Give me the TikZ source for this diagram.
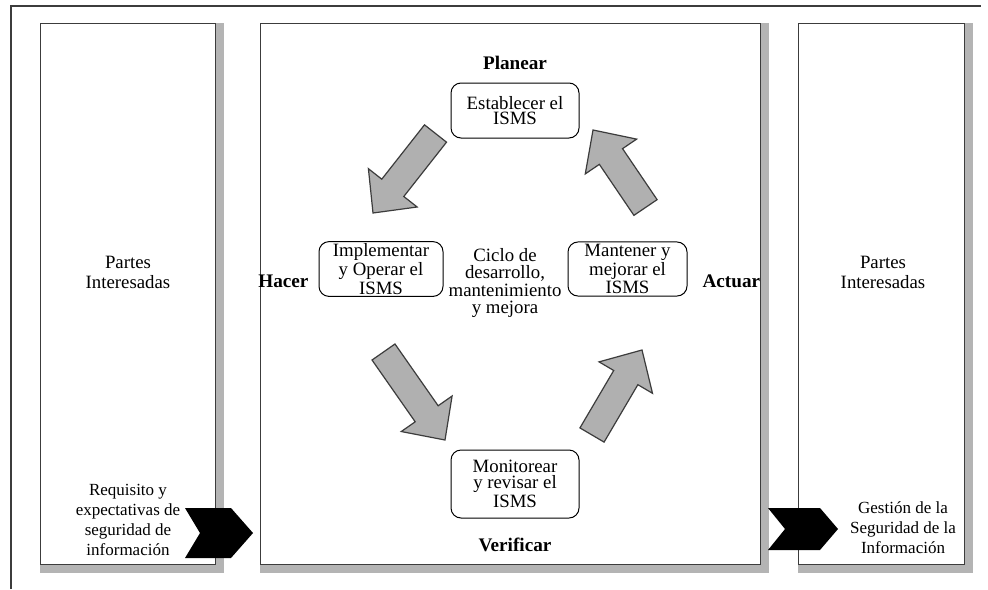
\documentclass[tikz,border=0pt]{standalone}
\usepackage{fontspec}
\setmainfont{Liberation Serif}
\usetikzlibrary{positioning,calc}
\definecolor{edge}{HTML}{3C3C3C}
\definecolor{shadowgray}{HTML}{B4B4B4}
\definecolor{arrowgray}{HTML}{B0B0B0}

% gray block arrow from tail #1 to tip #2
\newcommand{\blockarr}[2]{%
  \path ($(#2)!16pt!(#1)$) coordinate (hb);
  \draw[blk] ($(#1)!7pt!90:(#2)$) -- ($(hb)!7pt!90:(#2)$) -- ($(hb)!15.5pt!90:(#2)$) -- (#2)
    -- ($(hb)!15.5pt!-90:(#2)$) -- ($(hb)!7pt!-90:(#2)$) -- ($(#1)!7pt!-90:(#2)$) -- cycle;}

\begin{document}
\begin{tikzpicture}[x=0.5pt,y=-0.5pt,
  panel/.style={draw=edge,line width=0.6pt,fill=white,inner sep=0pt},
  stage/.style={draw=black,line width=0.5pt,rounded corners=5pt,fill=white,align=center,inner sep=1pt,
    font=\fontsize{9.4pt}{7.9pt}\selectfont},
  phase/.style={font=\fontsize{9.6pt}{10pt}\selectfont\bfseries},
  side/.style={align=center,font=\fontsize{8.5pt}{10pt}\selectfont},
  blk/.style={draw=edge,line width=0.6pt,fill=arrowgray,line join=miter}
]
  \useasboundingbox (0,0) rectangle (988,589);
  \draw[edge,line width=0.7pt] (11,589) -- (11,6) -- (981,6);

  % panels with shadow
  \node[panel,minimum width=87pt,minimum height=270pt] (lp) at (128,294) {};
  \node[panel,minimum width=249.5pt,minimum height=270pt] (cp) at (510.5,294) {};
  \node[panel,minimum width=82.5pt,minimum height=270pt] (rp) at (881.5,294) {};
  \foreach \p in {lp,cp,rp}{
    \fill[shadowgray] (\p.north west) rectangle ($(\p.south east)+(8,8)$);
    \draw[panel] (\p.north west) rectangle (\p.south east);
  }

  \node[align=center,font=\fontsize{9.4pt}{10pt}\selectfont] (lpt) at (128,272) {Partes\\Interesadas};
  \node[align=center,font=\fontsize{9.4pt}{10pt}\selectfont] (rpt) at (883,272) {Partes\\Interesadas};
  \node[side] (req) at (128,520) {Requisito y\\expectativas de\\seguridad de\\información};
  \node[side] (gest) at (903,528) {Gestión de la\\Seguridad de la\\Información};

  % cycle
  \node[stage,minimum width=64pt,minimum height=27.5pt] (plan) at (515,110.5) {Establecer el\\ISMS};
  \node[stage,minimum width=62pt,minimum height=24pt] (do) at (381,269) {Implementar\\y Operar el\\ISMS};
  \node[stage,minimum width=59.5pt,minimum height=24pt] (act) at (627.5,269) {Mantener y\\mejorar el\\ISMS};
  \node[stage,minimum width=64pt,minimum height=34pt] (check) at (515,484) {Monitorear\\y revisar el\\ISMS};
  \node[align=center,font=\fontsize{9.4pt}{8.6pt}\selectfont] (cyc) at (505,283) {Ciclo de\\desarrollo,\\mantenimiento\\y mejora};

  \node[phase,above=3pt of plan] (lplan) {Planear};
  \node[phase,left=1.5pt of do,yshift=-6pt] (ldo) {Hacer};
  \node[phase,right=4pt of act,yshift=-6pt] (lact) {Actuar};
  \node[phase,below=6pt of check] (lcheck) {Verificar};

  % block arrows
  \coordinate (a1s) at (435.5,133.5); \coordinate (a1e) at (373,213);
  \coordinate (a2s) at (645.5,207.5); \coordinate (a2e) at (593,130);
  \coordinate (a3s) at (383.5,352);   \coordinate (a3e) at (445,440);
  \coordinate (a4s) at (592,435);     \coordinate (a4e) at (642,350);
  \blockarr{a1s}{a1e}
  \blockarr{a2s}{a2e}
  \blockarr{a3s}{a3e}
  \blockarr{a4s}{a4e}

  % input / output chevrons
  \coordinate (inL) at (185,533);
  \fill[black] (inL) ++(0,-25) -- ++(46,0) -- ++(22,25) -- ++(-22,25) -- ++(-46,0) -- ++(15,-25) -- cycle;
  \coordinate (outL) at (768,529);
  \fill[black] (outL) ++(0,-21) -- ++(52,0) -- ++(18,21) -- ++(-18,21) -- ++(-52,0) -- ++(17,-21) -- cycle;
\end{tikzpicture}
\end{document}
